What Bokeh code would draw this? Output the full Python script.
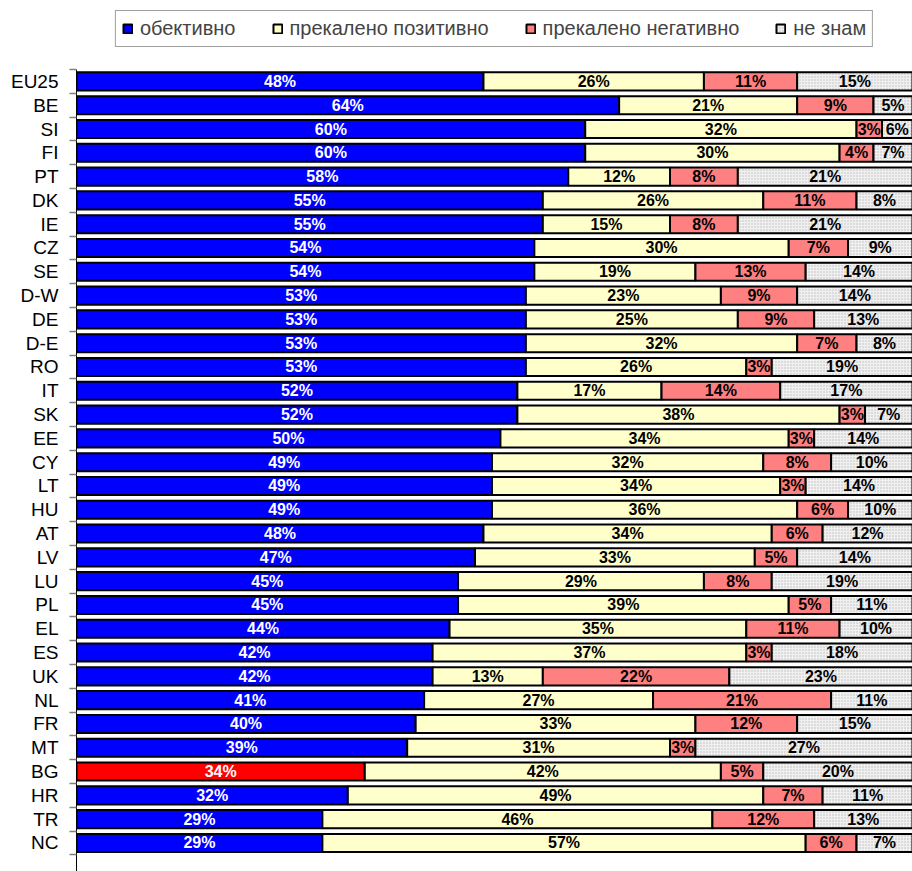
from bokeh.plotting import figure
from bokeh.models import ColumnDataSource, Range1d, FixedTicker, Legend, LegendItem
from bokeh.core.properties import value
from bokeh.embed import file_html
from bokeh.resources import INLINE

categories = ["EU25", "BE", "SI", "FI", "PT", "DK", "IE", "CZ", "SE", "D-W", "DE", "D-E",
              "RO", "IT", "SK", "EE", "CY", "LT", "HU", "AT", "LV", "LU", "PL", "EL",
              "ES", "UK", "NL", "FR", "MT", "BG", "HR", "TR", "NC"]
objective = [48, 64, 60, 60, 58, 55, 55, 54, 54, 53, 53, 53, 53, 52, 52, 50, 49, 49, 49, 48,
             47, 45, 45, 44, 42, 42, 41, 40, 39, 34, 32, 29, 29]
too_positive = [26, 21, 32, 30, 12, 26, 15, 30, 19, 23, 25, 32, 26, 17, 38, 34, 32, 34, 36, 34,
                33, 29, 39, 35, 37, 13, 27, 33, 31, 42, 49, 46, 57]
too_negative = [11, 9, 3, 4, 8, 11, 8, 7, 13, 9, 9, 7, 3, 14, 3, 3, 8, 3, 6, 6,
                5, 8, 5, 11, 3, 22, 21, 12, 3, 5, 7, 12, 6]
dont_know = [15, 5, 6, 7, 21, 8, 21, 9, 14, 14, 13, 8, 19, 17, 7, 14, 10, 14, 10, 12,
             14, 19, 11, 10, 18, 23, 11, 15, 27, 20, 11, 13, 7]
series_names = ["обективно", "прекалено позитивно", "прекалено негативно", "не знам"]
highlight = "BG"

series = [objective, too_positive, too_negative, dont_know]
fills = ["#0000FF", "#FFFFCC", "#FF8080", "#F0F0F0"]
text_colors = ["white", "black", "black", "black"]

n = len(categories)
ys = list(range(n))
XMAX = 98.6

p = figure(width=912, height=871, output_backend="svg", toolbar_location=None,
           x_range=Range1d(0, XMAX), y_range=Range1d(33.2, -3.4),
           x_axis_location=None, min_border_left=76, min_border_right=0,
           min_border_bottom=0, min_border_top=0, background_fill_color="white",
           border_fill_color="white", outline_line_color=None)
p.xgrid.visible = False
p.ygrid.visible = False

legend_items = []
cum = [0] * n
for k, (vals, fc, tc, name) in enumerate(zip(series, fills, text_colors, series_names)):
    left = cum[:]
    right = [a + b for a, b in zip(cum, vals)]
    mid = [(a + min(b, XMAX)) / 2 for a, b in zip(left, right)]
    colors = [("#FF0000" if (k == 0 and c == highlight) else fc) for c in categories]
    src = ColumnDataSource(dict(y=ys, left=left, right=right, mid=mid, color=colors,
                                lab=[f"{v}%" for v in vals]))
    kw = {}
    if k == 3:
        kw = dict(hatch_pattern="dot", hatch_color="#BBBBBB", hatch_scale=3, hatch_weight=1)
    r = p.hbar(y="y", left="left", right="right", height=0.76, fill_color="color",
               line_color="black", line_width=2, source=src, **kw)
    legend_items.append(LegendItem(label=name, renderers=[r]))
    p.text(x="mid", y="y", text="lab", source=src, text_align="center",
           text_baseline="middle", text_color=tc, text_font=value("Liberation Sans"),
           text_font_style="bold", text_font_size="16px")
    cum = right

ax = p.yaxis[0]
ax.bounds = (-0.5, 34)
ax.ticker = FixedTicker(ticks=ys, minor_ticks=[i - 0.5 for i in range(n + 1)])
ax.major_label_overrides = {i: c for i, c in enumerate(categories)}
ax.major_tick_line_color = None
ax.major_tick_out = 0
ax.major_tick_in = 0
ax.minor_tick_line_color = "#808080"
ax.minor_tick_line_width = 1.5
ax.minor_tick_out = 7
ax.minor_tick_in = 0
ax.axis_line_color = "black"
ax.major_label_text_font = "Liberation Sans"
ax.major_label_text_font_size = "19px"
ax.major_label_text_color = "black"
ax.major_label_standoff = 11

legend = Legend(items=legend_items, orientation="horizontal", location="top_center",
                label_text_font="Liberation Sans", label_text_font_size="20px",
                glyph_width=11, glyph_height=11, spacing=36, padding=6, margin=10,
                border_line_color="#404040", border_line_width=1,
                label_standoff=7, label_height=20, background_fill_color="white",
                background_fill_alpha=1.0)
p.add_layout(legend, "center")

open("out.html", "w").write(file_html(p, INLINE))
